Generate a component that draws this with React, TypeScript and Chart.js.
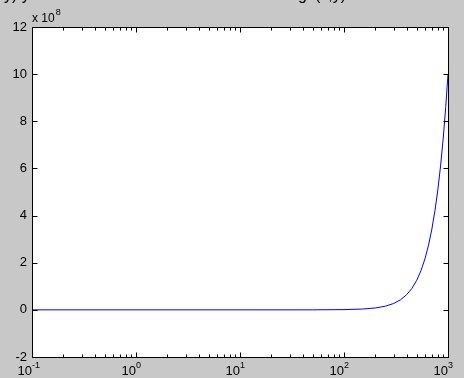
import React, { useEffect, useRef } from "react";
import { Chart, registerables } from "chart.js";

Chart.register(...registerables);

// curve y = x^3, values in units of 1e8
const xValues = [0.1, 1, 10, 50, 100, 150, 200, 250, 300, 350, 400, 450, 500, 550, 600, 650, 700, 750, 800, 850, 900, 950, 1000];
const yValues = [0, 0, 0, 0.001, 0.01, 0.034, 0.08, 0.156, 0.27, 0.429, 0.64, 0.911, 1.25, 1.664, 2.16, 2.746, 3.43, 4.219, 5.12, 6.141, 7.29, 8.574, 10];

const yTicks = [-2, 0, 2, 4, 6, 8, 10, 12];
const xDecades = [0.1, 1, 10, 100, 1000];
const xDecadeExponents = ["-1", "0", "1", "2", "3"];
const minorMultipliers = [2, 3, 4, 5, 6, 7, 8, 9];
const yExponentLabel = "8";
const titleLeft = "y) y = x^3";
const titleRight = "semilogx(x,y)";

const FONT = '"Liberation Sans", Arial, Helvetica, sans-serif';

const axesPlugin = {
  id: "matlabAxes",
  beforeDraw(chart: any) {
    const { ctx, chartArea: a } = chart;
    ctx.save();
    ctx.fillStyle = "rgb(200,200,200)";
    ctx.fillRect(0, 0, chart.width, chart.height);
    ctx.fillStyle = "#ffffff";
    ctx.fillRect(a.left, a.top, a.right - a.left, a.bottom - a.top);
    ctx.restore();
  },
  afterDraw(chart: any) {
    const { ctx, chartArea: a } = chart;
    const xs = chart.scales.x;
    const ys = chart.scales.y;
    ctx.save();
    ctx.strokeStyle = "#000000";
    ctx.lineWidth = 1;
    const L = Math.round(a.left) + 0.5;
    const R = Math.round(a.right) + 0.5;
    const T = Math.round(a.top) + 0.5;
    const B = Math.round(a.bottom) + 0.5;
    ctx.beginPath();
    ctx.rect(L, T, R - L, B - T);
    ctx.stroke();

    ctx.beginPath();
    yTicks.forEach((v) => {
      const py = Math.round(ys.getPixelForValue(v)) + 0.5;
      ctx.moveTo(L, py);
      ctx.lineTo(L + 5, py);
      ctx.moveTo(R, py);
      ctx.lineTo(R - 5, py);
    });
    xDecades.forEach((d, i) => {
      const px = Math.round(xs.getPixelForValue(d)) + 0.5;
      ctx.moveTo(px, B);
      ctx.lineTo(px, B - 5);
      ctx.moveTo(px, T);
      ctx.lineTo(px, T + 5);
      if (i < xDecades.length - 1) {
        minorMultipliers.forEach((m) => {
          const mx = Math.round(xs.getPixelForValue(d * m)) + 0.5;
          ctx.moveTo(mx, B);
          ctx.lineTo(mx, B - 3);
          ctx.moveTo(mx, T);
          ctx.lineTo(mx, T + 3);
        });
      }
    });
    ctx.stroke();

    ctx.fillStyle = "#000000";
    ctx.font = `13px ${FONT}`;
    ctx.textAlign = "right";
    ctx.textBaseline = "middle";
    yTicks.forEach((v) => {
      const py = ys.getPixelForValue(v);
      ctx.fillText(String(v), a.left - 5, py);
    });

    xDecades.forEach((d, i) => {
      const px = xs.getPixelForValue(d);
      ctx.font = `13px ${FONT}`;
      ctx.textAlign = "right";
      ctx.textBaseline = "alphabetic";
      ctx.fillText("10", px, a.bottom + 18);
      ctx.font = `9px ${FONT}`;
      ctx.textAlign = "left";
      ctx.fillText(xDecadeExponents[i], px, a.bottom + 11);
    });

    ctx.font = `12px ${FONT}`;
    ctx.textAlign = "left";
    ctx.textBaseline = "alphabetic";
    ctx.fillText("x 10", a.left, a.top - 5);
    const w = ctx.measureText("x 10").width;
    ctx.font = `9px ${FONT}`;
    ctx.fillText(yExponentLabel, a.left + w + 1, a.top - 12);

    ctx.font = `16px ${FONT}`;
    ctx.textAlign = "left";
    ctx.fillText(titleLeft, 4, 0);
    ctx.textAlign = "right";
    ctx.fillText(titleRight, 346, 0);
    ctx.restore();
  },
};

export default function App() {
  const ref = useRef<HTMLCanvasElement>(null);
  useEffect(() => {
    document.body.style.margin = "0";
    const canvas = ref.current!;
    const chart = new Chart(canvas, {
      type: "line",
      data: {
        datasets: [
          {
            data: xValues.map((x, i) => ({ x, y: yValues[i] })),
            borderColor: "#0000ff",
            borderWidth: 1,
            pointRadius: 0,
            tension: 0,
            fill: false,
          },
        ],
      },
      options: {
        animation: false,
        responsive: false,
        maintainAspectRatio: false,
        devicePixelRatio: 1,
        layout: { padding: { left: 32, top: 27, right: 16, bottom: 21 } },
        plugins: { legend: { display: false }, tooltip: { enabled: false } },
        scales: {
          x: { type: "logarithmic", min: 0.1, max: 1000, display: false },
          y: { type: "linear", min: -2, max: 12, display: false },
        },
      },
      plugins: [axesPlugin],
    });
    return () => chart.destroy();
  }, []);
  return (
    <div style={{ width: 464, height: 378 }}>
      <canvas ref={ref} width={464} height={378} style={{ display: "block" }} />
    </div>
  );
}
